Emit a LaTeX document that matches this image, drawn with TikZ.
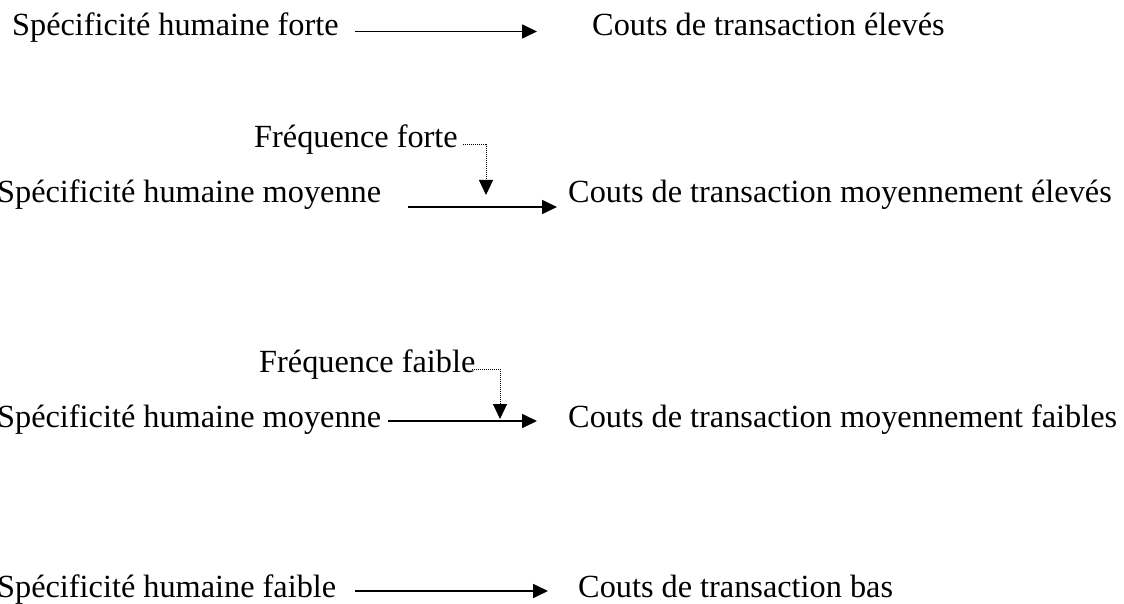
\documentclass[tikz,border=0pt]{standalone}
\usepackage{fontspec}
\setmainfont{Liberation Serif}
\usetikzlibrary{arrows.meta}
\begin{document}
\begin{tikzpicture}[x=1pt,y=-1pt,
  lbl/.style={anchor=base west, inner sep=0pt, font=\fontsize{32.3}{38}\selectfont},
  link/.style={line width=1.7pt, -{Triangle[length=15pt,width=14pt]}},
  hint/.style={line width=1pt, dash pattern=on 1pt off 1pt,
    -{Triangle[length=15pt,width=14pt,sep=0pt]}}]
\useasboundingbox (0,0) rectangle (1124,604);

% row 1: strong specificity
\node[lbl] (l1) at (12,36) {Spécificité humaine forte};
\node[lbl] (r1) at (592,36) {Couts de transaction élevés};
\coordinate (a1s) at (355,31.5);
\coordinate (a1e) at (537,31.5);
\draw[link] (a1s) -- (a1e);

% row 2: medium specificity, high frequency
\node[lbl] (f2) at (254,148) {Fréquence forte};
\node[lbl] (l2) at (-3,203) {Spécificité humaine moyenne};
\node[lbl] (r2) at (568,203) {Couts de transaction moyennement élevés};
\coordinate (a2s) at (408,207);
\coordinate (a2e) at (557,207);
\draw[link] (a2s) -- (a2e);
\coordinate (h2s) at (463,145);
\coordinate (h2e) at (486,195);
\draw[hint] (h2s) -| (h2e);

% row 3: medium specificity, low frequency
\node[lbl] (f3) at (259,372) {Fréquence faible};
\node[lbl] (l3) at (-3,427) {Spécificité humaine moyenne};
\node[lbl] (r3) at (568,427) {Couts de transaction moyennement faibles};
\coordinate (a3s) at (388,421);
\coordinate (a3e) at (537,421);
\draw[link] (a3s) -- (a3e);
\coordinate (h3s) at (472,369);
\coordinate (h3e) at (500,419);
\draw[hint] (h3s) -| (h3e);

% row 4: weak specificity
\node[lbl] (l4) at (-3,597) {Spécificité humaine faible};
\node[lbl] (r4) at (578,597) {Couts de transaction bas};
\coordinate (a4s) at (355,591);
\coordinate (a4e) at (548,591);
\draw[link] (a4s) -- (a4e);
\end{tikzpicture}
\end{document}
